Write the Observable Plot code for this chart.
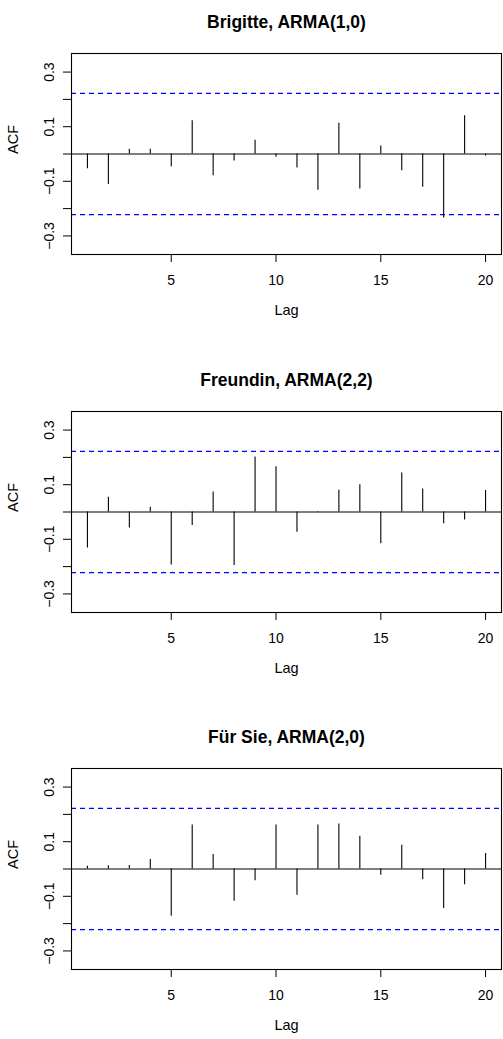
<!DOCTYPE html>
<html><head><meta charset="utf-8">
<script src="https://cdn.jsdelivr.net/npm/d3@7"></script>
<script src="https://cdn.jsdelivr.net/npm/@observablehq/plot@0.6"></script>
<style>
html,body{margin:0;padding:0;background:#fff;width:503px;height:1039px;overflow:hidden;}
.panel{position:absolute;left:0;}
</style></head><body>
<script>
const lags = [1,2,3,4,5,6,7,8,9,10,11,12,13,14,15,16,17,18,19,20];
const brigitteAcf = [-0.054,-0.112,0.017,0.017,-0.047,0.122,-0.080,-0.026,0.050,-0.012,-0.051,-0.133,0.113,-0.128,0.029,-0.061,-0.122,-0.234,0.140,-0.007];
const freundinAcf = [-0.132,0.054,-0.059,0.017,-0.194,-0.049,0.073,-0.196,0.201,0.166,-0.074,0.002,0.080,0.100,-0.116,0.143,0.084,-0.043,-0.029,0.079];
const fuerSieAcf = [0.010,0.012,0.013,0.035,-0.173,0.161,0.053,-0.118,-0.043,0.161,-0.096,0.161,0.165,0.120,-0.023,0.087,-0.039,-0.145,-0.058,0.057];
const titles = ["Brigitte, ARMA(1,0)", "Freundin, ARMA(2,2)", "Für Sie, ARMA(2,0)"];
const ciBound = 0.222;
const yTicks = [-0.3,-0.2,-0.1,0,0.1,0.2,0.3];
const yTickLabels = ["−0.3","","−0.1","","0.1","","0.3"];
const xTicks = [5,10,15,20];
const xLabel = "Lag";
const yLabel = "ACF";

const series = [brigitteAcf, freundinAcf, fuerSieAcf];
const tops = [0, 358, 715];
const font = "'Liberation Sans', Arial, Helvetica, sans-serif";

series.forEach((acf, k) => {
  const data = lags.map((lag, i) => ({lag, acf: acf[i]}));
  const chart = Plot.plot({
    width: 503, height: 324,
    marginTop: 53, marginBottom: 70, marginLeft: 71, marginRight: 2,
    style: {fontFamily: font, fontSize: "14px", color: "black", background: "white", overflow: "visible"},
    x: {domain: [0.24, 20.76]},
    y: {domain: [-0.368, 0.368]},
    marks: [
      Plot.ruleY([ciBound, -ciBound], {stroke: "#0000ff", strokeWidth: 1.1, strokeDasharray: "5,4"}),
      Plot.ruleY([0], {stroke: "black", strokeWidth: 1.1}),
      Plot.ruleX(data, {x: "lag", y1: 0, y2: "acf", stroke: "black", strokeWidth: 1.1}),
      Plot.frame({stroke: "black", strokeWidth: 1.1}),
      Plot.axisX({ticks: xTicks, tickSize: 8, tickPadding: 13, label: null, fontSize: 14, stroke: "black"}),
      Plot.axisY({ticks: yTicks, tickSize: 8, tickPadding: 10, tickRotate: -90, label: null, fontSize: 14,
        tickFormat: d => yTickLabels[yTicks.findIndex(t => Math.abs(t - d) < 1e-9)]}),
      Plot.text([titles[k]], {text: d => d, frameAnchor: "top", dy: -38, fontWeight: "bold", fontSize: 17.5}),
      Plot.text([xLabel], {text: d => d, frameAnchor: "bottom", dy: 60, fontSize: 14.5}),
      Plot.text([yLabel], {text: d => d, frameAnchor: "left", dx: -58, rotate: -90, fontSize: 14.5})
    ]
  });
  const div = document.createElement("div");
  div.className = "panel";
  div.style.top = tops[k] + "px";
  div.appendChild(chart);
  document.body.appendChild(div);
});
</script>
</body></html>
